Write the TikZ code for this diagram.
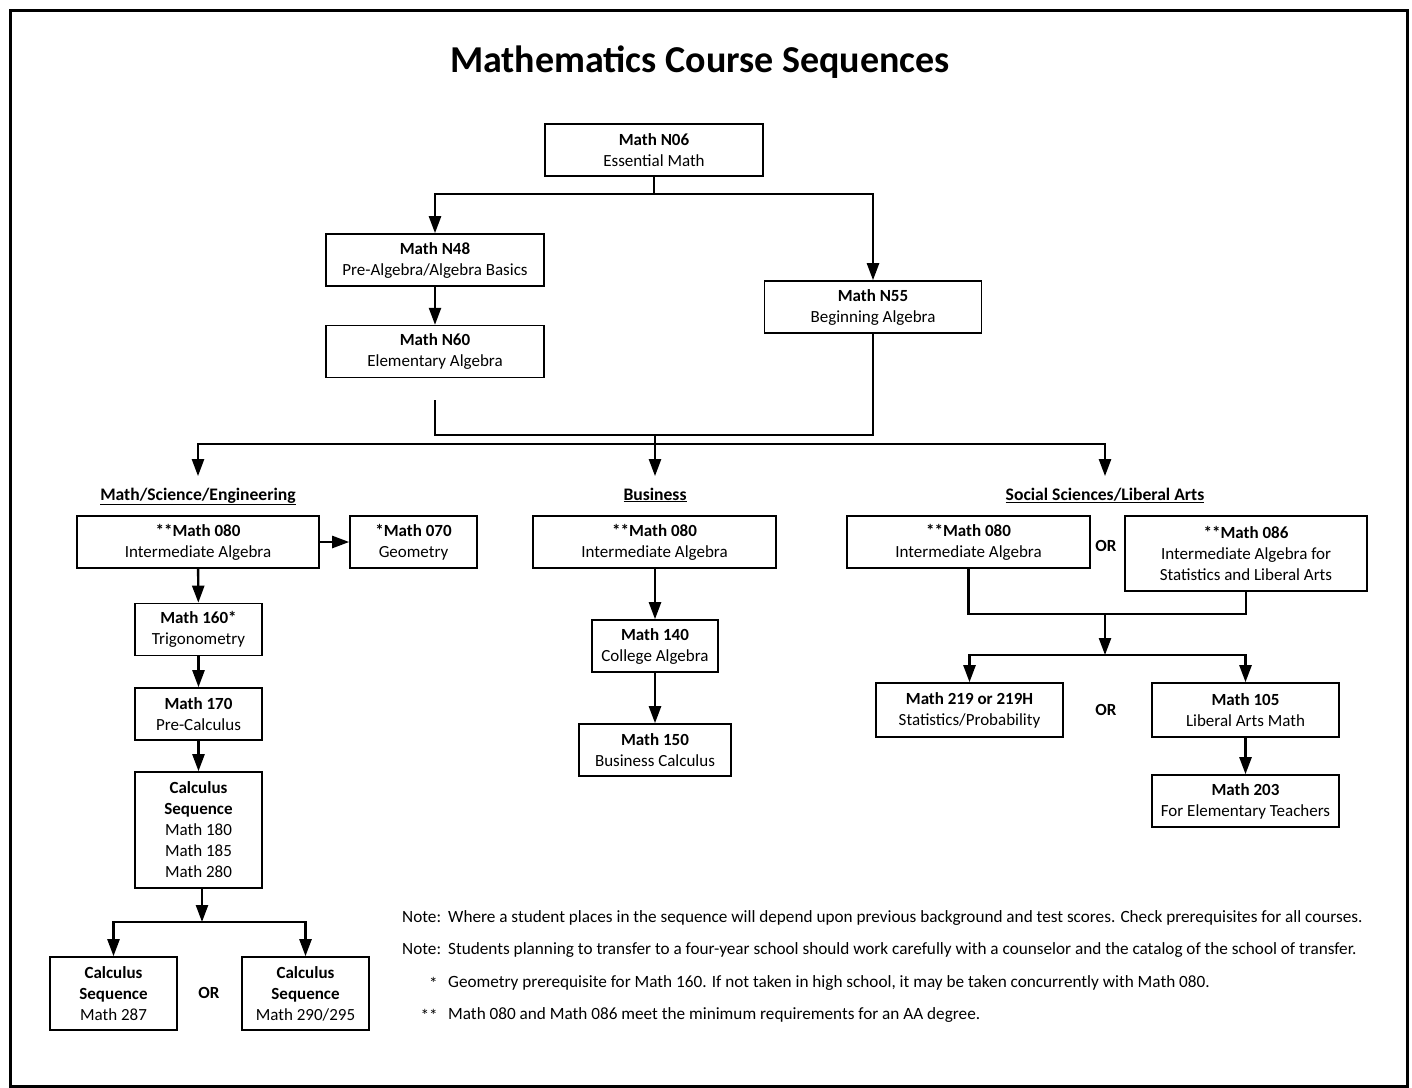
\documentclass[tikz,border=0pt]{standalone}
\usepackage{fontspec}
\setmainfont{Carlito}
\usetikzlibrary{arrows.meta,positioning}

\begin{document}
\begin{tikzpicture}[x=1pt,y=-1pt,>={Triangle[length=17pt,width=12pt]},
  box/.style={draw,line width=1.6pt,align=center,inner sep=0pt,minimum height=52pt,font=\fontsize{17}{21}\selectfont},
  cat/.style={font=\fontsize{17.6}{21}\selectfont\bfseries},
  ortext/.style={font=\fontsize{17}{21}\selectfont\bfseries},
  link/.style={line width=2.4pt},
  note/.style={anchor=west,inner sep=0pt,font=\fontsize{17.2}{20}\selectfont}]
\useasboundingbox (0,0) rectangle (1412,1087);
\draw[line width=3pt] (10.5,10.5) rectangle (1407,1086);
\node[font=\fontsize{38}{44}\selectfont\bfseries,anchor=base] (title) at (700,72) {Mathematics Course Sequences};

% top of the chart
\node[box,minimum width=218pt] (n06) at (654,150) {\textbf{Math N06}\\Essential Math};
\node[box,minimum width=218pt] (n48) at (435,260) {\textbf{Math N48}\\Pre-Algebra/Algebra Basics};
\node[box,minimum width=218pt,below=38pt of n48] (n60) {\textbf{Math N60}\\Elementary Algebra};
\node[box,minimum width=217pt] (n55) at (873,307) {\textbf{Math N55}\\Beginning Algebra};
\coordinate (s1) at (654,194);
\draw[link] (n06.south) -- (s1);
\draw[link,->] (s1) -| (n48.north);
\draw[link,->] (s1) -| (n55.north);
\draw[link,->] (n48) -- (n60);
\coordinate (m1) at (435,400);
\coordinate (m2) at (655,435);
\coordinate (b0) at (655,444);
\draw[link] (m1) |- (m2) -| (n55.south);
\draw[link] (m2) -- (b0);

% three branches
\node[cat,anchor=base] (catmse) at (198,500) {\underline{Math/Science/Engineering}};
\node[cat,anchor=base] (catbus) at (655,500) {\underline{Business}};
\node[cat,anchor=base] (catss) at (1105,500) {\underline{Social Sciences/Liberal Arts}};
\draw[link,->,shorten >=8pt] (b0) -| (catmse.north);
\draw[link,->,shorten >=8pt] (b0) -- (b0 |- catbus.north);
\draw[link,->,shorten >=8pt] (b0) -| (catss.north);

% Math/Science/Engineering
\node[box,minimum width=242pt] (mse080) at (198,542) {\textbf{**Math 080}\\Intermediate Algebra};
\node[box,minimum width=127pt] (geo070) at (413.5,542) {\textbf{*Math 070}\\Geometry};
\node[box,minimum width=127pt] (m160) at (198.5,629.5) {\textbf{Math 160*}\\Trigonometry};
\node[box,minimum width=127pt] (m170) at (198.5,714) {\textbf{Math 170}\\Pre-Calculus};
\node[box,minimum width=127pt,minimum height=116pt] (calc) at (198.5,830) {\textbf{Calculus}\\\textbf{Sequence}\\Math 180\\Math 185\\Math 280};
\node[box,minimum width=127pt,minimum height=73pt] (calc287) at (113.5,993.5) {\textbf{Calculus}\\\textbf{Sequence}\\Math 287};
\node[box,minimum width=127pt,minimum height=73pt] (calc290) at (305.5,993.5) {\textbf{Calculus}\\\textbf{Sequence}\\Math 290/295};
\node[ortext] (or1) at (209,993) {OR};
\draw[link,->] (mse080) -- (geo070);
\draw[link,->] (mse080) -- (m160);
\draw[link,->] (m160) -- (m170);
\draw[link,->] (m170) -- (calc);
\coordinate (c1) at (202,922);
\draw[link,->] (calc.south -| c1) -- (c1);
\draw[link,->] (c1) -| (calc287.north);
\draw[link,->] (c1) -| (calc290.north);

% Business
\node[box,minimum width=243pt] (bus080) at (654.5,542) {\textbf{**Math 080}\\Intermediate Algebra};
\node[box,minimum width=126pt] (m140) at (655,646) {\textbf{Math 140}\\College Algebra};
\node[box,minimum width=152pt] (m150) at (655,750) {\textbf{Math 150}\\Business Calculus};
\draw[link,->] (bus080.south -| m140) -- (m140);
\draw[link,->] (m140) -- (m150);

% Social Sciences/Liberal Arts
\node[box,minimum width=243pt] (ss080) at (968.5,542) {\textbf{**Math 080}\\Intermediate Algebra};
\node[box,minimum width=242pt,minimum height=75pt] (ss086) at (1246,553.5) {\textbf{**Math 086}\\Intermediate Algebra for\\Statistics and Liberal Arts};
\node[ortext] (or2) at (1106,546) {OR};
\node[box,minimum width=187pt,minimum height=54pt] (m219) at (969.5,710) {\textbf{Math 219 or 219H}\\Statistics/Probability};
\node[box,minimum width=187pt,minimum height=54pt] (m105) at (1245.5,710) {\textbf{Math 105}\\Liberal Arts Math};
\node[box,minimum width=187pt] (m203) at (1245.5,801) {\textbf{Math 203}\\For Elementary Teachers};
\node[ortext] (or3) at (1106,710) {OR};
\coordinate (s2) at (1105,614);
\coordinate (s3) at (1105,655);
\draw[link] (ss080.south) |- (s2) -| (ss086.south);
\draw[link,->] (s2) -- (s3);
\draw[link,->] (s3) -| (m219.north);
\draw[link,->] (s3) -| (m105.north);
\draw[link,->] (m105) -- (m203);

% notes
\node[note] (note1) at (402,918) {\makebox[46pt][l]{Note:}Where a student places in the sequence will depend upon previous background and test scores. Check prerequisites for all courses.};
\node[note] (note2) at (402,950) {\makebox[46pt][l]{Note:}Students planning to transfer to a four-year school should work carefully with a counselor and the catalog of the school of transfer.};
\node[note,anchor=east] (star1) at (438,983) {*};
\node[note] (note3) at (448,983) {Geometry prerequisite for Math 160. If not taken in high school, it may be taken concurrently with Math 080.};
\node[note,anchor=east] (star2) at (438,1015) {**};
\node[note] (note4) at (448,1015) {Math 080 and Math 086 meet the minimum requirements for an AA degree.};
\end{tikzpicture}
\end{document}
